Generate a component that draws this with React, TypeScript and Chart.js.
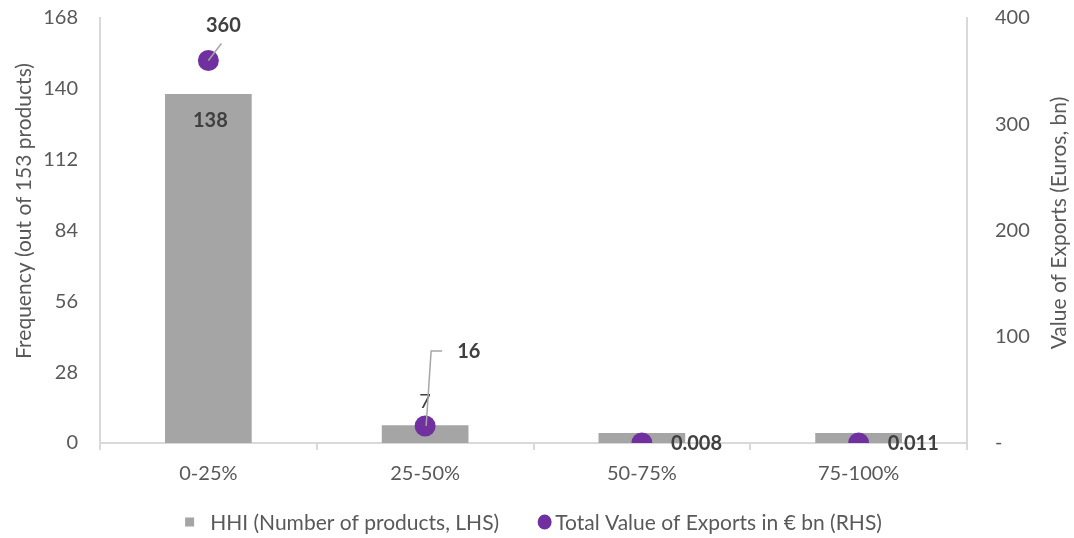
import React, { useEffect, useRef } from "react";
import { Chart, registerables } from "chart.js";

Chart.register(...registerables);

const categories = ["0-25%", "25-50%", "50-75%", "75-100%"];
const productCounts = [138, 7, 4, 4];
const exportValues = [360, 16, 0.008, 0.011];
const exportLabels = ["360", "16", "0.008", "0.011"];
const leftTicks = [0, 28, 56, 84, 112, 140, 168];
const rightTicks = [0, 100, 200, 300, 400];
const seriesNames = ["HHI (Number of products, LHS)", "Total Value of Exports in € bn (RHS)"];
const axisTitles = ["Frequency (out of 153 products)", "Value of Exports (Euros, bn)"];

const FONT = "Lato, 'Open Sans', sans-serif";
const GREY_TEXT = "#595959";
const DARK_TEXT = "#404040";
const BAR_COLOR = "#a5a5a5";
const DOT_COLOR = "#7030a0";

const labelPlugin = {
  id: "customLabels",
  afterDatasetsDraw(chart: any) {
    const ctx = chart.ctx;
    ctx.save();
    const barMeta = chart.getDatasetMeta(0);
    barMeta.data.forEach((el: any, i: number) => {
      ctx.fillStyle = DARK_TEXT;
      ctx.textAlign = "center";
      ctx.textBaseline = "middle";
      if (i === 0) {
        ctx.font = `bold 20px ${FONT}`;
        ctx.fillText(String(productCounts[i]), el.x + 2, el.y + 27);
      } else if (i === 1) {
        ctx.font = `20px ${FONT}`;
        ctx.fillText(String(productCounts[i]), el.x, el.y - 24);
      }
    });
    const ptMeta = chart.getDatasetMeta(1);
    ptMeta.data.forEach((el: any, i: number) => {
      ctx.font = `bold 20px ${FONT}`;
      ctx.fillStyle = DARK_TEXT;
      ctx.textBaseline = "middle";
      ctx.strokeStyle = "#a6a6a6";
      ctx.lineWidth = 1.5;
      if (i === 0) {
        ctx.beginPath();
        ctx.moveTo(el.x, el.y);
        ctx.lineTo(el.x + 13, el.y - 17);
        ctx.stroke();
        ctx.textAlign = "center";
        ctx.fillText(exportLabels[i], el.x + 15, el.y - 35);
      } else if (i === 1) {
        ctx.beginPath();
        ctx.moveTo(el.x + 1, el.y);
        ctx.lineTo(el.x + 6, el.y - 75);
        ctx.lineTo(el.x + 17, el.y - 75);
        ctx.stroke();
        ctx.textAlign = "left";
        ctx.fillText(exportLabels[i], el.x + 32, el.y - 74);
      } else {
        ctx.textAlign = "left";
        ctx.fillText(exportLabels[i], el.x + 29, el.y + 1);
      }
    });
    ctx.restore();
  },
  afterDraw(chart: any) {
    const ctx = chart.ctx;
    const area = chart.chartArea;
    ctx.save();
    ctx.font = `21px ${FONT}`;
    ctx.fillStyle = GREY_TEXT;
    ctx.textAlign = "center";
    ctx.textBaseline = "middle";
    ctx.save();
    ctx.translate(24, 211);
    ctx.rotate(-Math.PI / 2);
    ctx.fillText(axisTitles[0], 0, 0);
    ctx.restore();
    ctx.save();
    ctx.translate(1059, 223);
    ctx.rotate(-Math.PI / 2);
    ctx.fillText(axisTitles[1], 0, 0);
    ctx.restore();

    // legend
    ctx.font = `21px ${FONT}`;
    const w1 = ctx.measureText(seriesNames[0]).width;
    const w2 = ctx.measureText(seriesNames[1]).width;
    const sq = 9;
    const gap1 = 16;
    const dot = 15;
    const gap2 = 3;
    const between = 38;
    const total = sq + gap1 + w1 + between + dot + gap2 + w2;
    const cx = (area.left + area.right) / 2;
    let x = cx - total / 2;
    const y = 522;
    ctx.fillStyle = BAR_COLOR;
    ctx.fillRect(x, y - sq / 2, sq, sq);
    x += sq + gap1;
    ctx.fillStyle = GREY_TEXT;
    ctx.textAlign = "left";
    ctx.fillText(seriesNames[0], x, y + 1);
    x += w1 + between;
    ctx.fillStyle = DOT_COLOR;
    ctx.beginPath();
    ctx.ellipse(x + dot / 2, y, dot / 2 - 0.5, dot / 2, 0, 0, Math.PI * 2);
    ctx.fill();
    x += dot + gap2;
    ctx.fillStyle = GREY_TEXT;
    ctx.fillText(seriesNames[1], x, y + 1);
    ctx.restore();
  },
};

export default function App() {
  const canvasRef = useRef<HTMLCanvasElement | null>(null);

  useEffect(() => {
    document.body.style.margin = "0";
    const canvas = canvasRef.current;
    if (!canvas) return;
    const chart = new Chart(canvas, {
      type: "bar",
      data: {
        labels: categories,
        datasets: [
          {
            type: "bar",
            label: seriesNames[0],
            data: productCounts,
            backgroundColor: BAR_COLOR,
            borderWidth: 0,
            barPercentage: 0.4,
            categoryPercentage: 1,
            yAxisID: "y",
            order: 1,
          } as any,
          {
            type: "line",
            label: seriesNames[1],
            data: exportValues,
            showLine: false,
            pointRadius: 10.5,
            pointHoverRadius: 10.5,
            pointBorderWidth: 0,
            pointBackgroundColor: DOT_COLOR,
            pointBorderColor: DOT_COLOR,
            backgroundColor: DOT_COLOR,
            borderColor: DOT_COLOR,
            yAxisID: "y1",
            order: 0,
          } as any,
        ],
      },
      options: {
        responsive: false,
        animation: false,
        maintainAspectRatio: false,
        layout: { padding: { left: 0, right: 0, top: 18, bottom: 0 } },
        plugins: {
          tooltip: { enabled: false },
          legend: { display: false },
        },
        scales: {
          x: {
            offset: true,
            afterFit: (s: any) => {
              s.height = 95;
              s.paddingLeft = 0;
              s.paddingRight = 0;
            },
            grid: {
              display: true,
              drawOnChartArea: false,
              drawTicks: true,
              tickLength: 7,
              color: "#d9d9d9",
              lineWidth: 2,
              offset: true,
            },
            border: { display: true, color: "#d9d9d9", width: 2 },
            ticks: {
              color: GREY_TEXT,
              font: { family: FONT, size: 20 },
              padding: 12,
            },
          },
          y: {
            position: "left",
            min: 0,
            max: 168,
            afterFit: (s: any) => {
              s.width = 100;
              s.paddingTop = 0;
              s.paddingBottom = 0;
            },
            afterBuildTicks: (axis: any) => {
              axis.ticks = leftTicks.map((v) => ({ value: v }));
            },
            grid: { display: false, drawTicks: false },
            border: { display: true, color: "#d9d9d9", width: 2 },
            ticks: {
              color: GREY_TEXT,
              font: { family: FONT, size: 20 },
              padding: 22,
            },
          },
          y1: {
            position: "right",
            min: 0,
            max: 400,
            afterFit: (s: any) => {
              s.width = 107;
              s.paddingTop = 0;
              s.paddingBottom = 0;
            },
            afterBuildTicks: (axis: any) => {
              axis.ticks = rightTicks.map((v) => ({ value: v }));
            },
            grid: { display: false, drawTicks: false },
            border: { display: true, color: "#d9d9d9", width: 2 },
            ticks: {
              color: GREY_TEXT,
              font: { family: FONT, size: 20 },
              padding: 28,
              callback: (v: any) => (Number(v) === 0 ? "-" : String(v)),
            },
          },
        },
      },
      plugins: [labelPlugin],
    });
    return () => chart.destroy();
  }, []);

  return (
    <div style={{ width: 1074, height: 538 }}>
      <canvas ref={canvasRef} width={1074} height={538} />
    </div>
  );
}
